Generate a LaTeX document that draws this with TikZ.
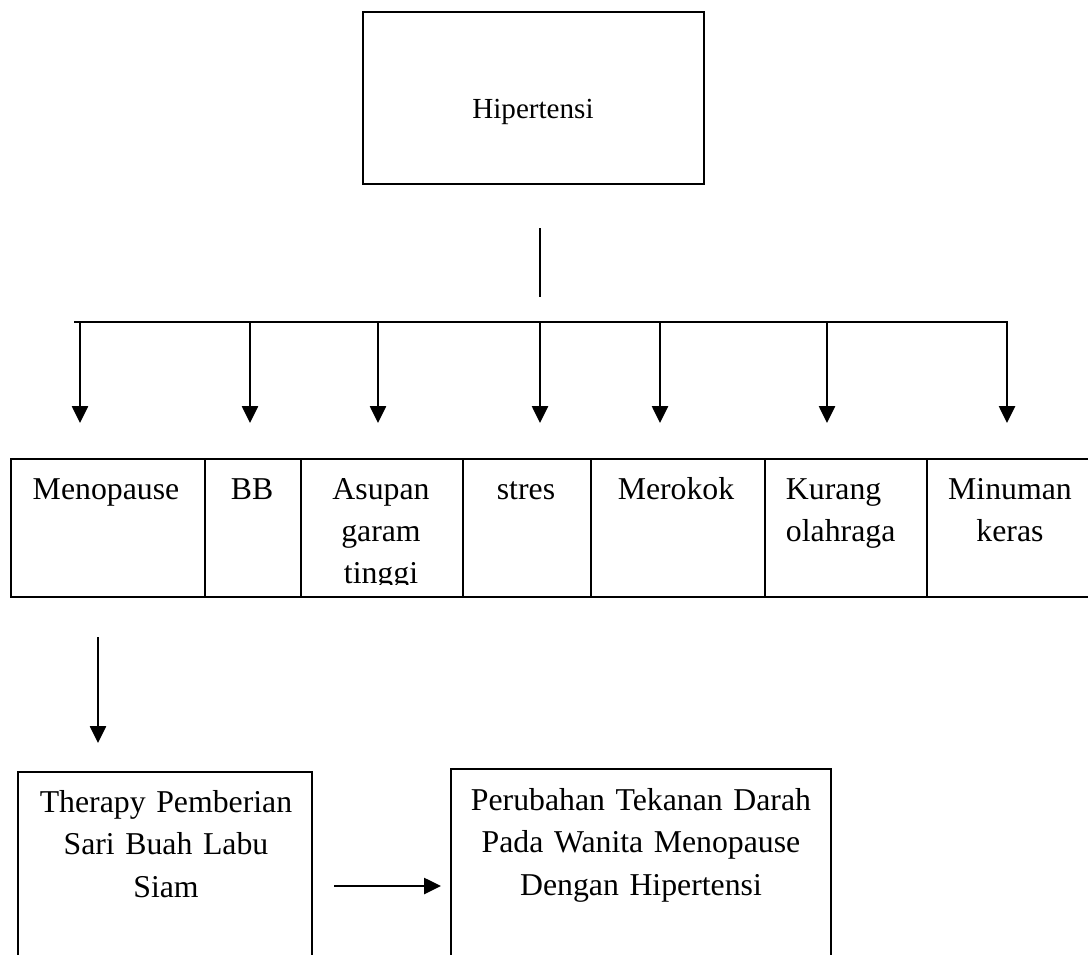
\documentclass[tikz,border=0pt]{standalone}
\usepackage{fontspec}
\setmainfont{Liberation Serif}
\usetikzlibrary{arrows.meta}
\begin{document}
\begin{tikzpicture}[x=0.025cm,y=-0.025cm,
  line width=1.4pt,
  box/.style={draw, line width=1.4pt, rectangle, inner sep=0pt},
  txt/.style={font=\fontsize{22.6}{29.9}\selectfont, inner sep=0pt, text width=4.6cm, align=center},
  btxt/.style={font=\fontsize{22.6}{30.4}\selectfont, inner sep=0pt, text width=9cm, align=center},
  arr/.style={-{Triangle[width=0.4cm,length=0.42cm]}, line width=1.4pt},
]
\useasboundingbox (0,0) rectangle (1088,955);

% top box
\node[box, minimum width=8.525cm, minimum height=4.3cm] (hip) at (533.5,98) {};
\node[font=\fontsize{20.7}{25}\selectfont, inner sep=0pt, anchor=base] (hiptxt) at (533,118) {Hipertensi};

% stem and bus
\coordinate (stemT) at (540,228);
\coordinate (stemB) at (540,297);
\draw (stemT) -- (stemB);
\coordinate (busL) at (74,322);
\coordinate (busR) at (1008,322);
\draw (busL) -- (busR);

% arrows from bus
\foreach \n/\x in {1/80,2/250,3/378,4/540,5/660,6/827,7/1007}{
  \coordinate (s\n) at (\x,322);
  \coordinate (e\n) at (\x,423);
  \draw[arr] (s\n) -- (e\n);
}

% table cells
\node[box, anchor=north west, minimum width=4.85cm, minimum height=3.45cm] (c1) at (10,458) {};
\node[box, anchor=north west, minimum width=2.4cm, minimum height=3.45cm] (c2) at (204,458) {};
\node[box, anchor=north west, minimum width=4.05cm, minimum height=3.45cm] (c3) at (300,458) {};
\node[box, anchor=north west, minimum width=3.2cm, minimum height=3.45cm] (c4) at (462,458) {};
\node[box, anchor=north west, minimum width=4.35cm, minimum height=3.45cm] (c5) at (590,458) {};
\node[box, anchor=north west, minimum width=4.05cm, minimum height=3.45cm] (c6) at (764,458) {};
\node[box, anchor=north west, minimum width=5cm, minimum height=3.45cm] (c7) at (926,458) {};

% table texts
\node[txt, anchor=base] (t1) at (106,499) {Menopause};
\node[txt, anchor=base] (t2) at (252,499) {BB};
\begin{scope}
  \clip (300,458) rectangle (462,584);
  \node[txt, anchor=base] (t3) at (381,499) {Asupan\\garam\\tinggi};
\end{scope}
\node[txt, anchor=base] (t4) at (526,499) {stres};
\node[txt, anchor=base] (t5) at (676,499) {Merokok};
\node[txt, text width=3.8cm, align=left, anchor=base west] (t6) at (785,499) {Kurang\\olahraga};
\node[txt, anchor=base] (t7) at (1010,499) {Minuman\\keras};

% down arrow from Menopause
\coordinate (dT) at (98,637);
\coordinate (dB) at (98,743);
\draw[arr] (dT) -- (dB);

% bottom boxes
\node[box, minimum width=7.35cm, minimum height=5.7cm] (therapy) at (165,886) {};
\node[btxt, anchor=base] (ttxt) at (166,812) {Therapy Pemberian\\Sari Buah Labu\\Siam};
\node[box, minimum width=9.5cm, minimum height=5.775cm] (result) at (641,884.5) {};
\node[btxt, anchor=base] (rtxt) at (641,810) {Perubahan Tekanan Darah\\Pada Wanita Menopause\\Dengan Hipertensi};

% horizontal arrow
\coordinate (hL) at (334,886);
\coordinate (hR) at (441,886);
\draw[arr] (hL) -- (hR);
\end{tikzpicture}
\end{document}
